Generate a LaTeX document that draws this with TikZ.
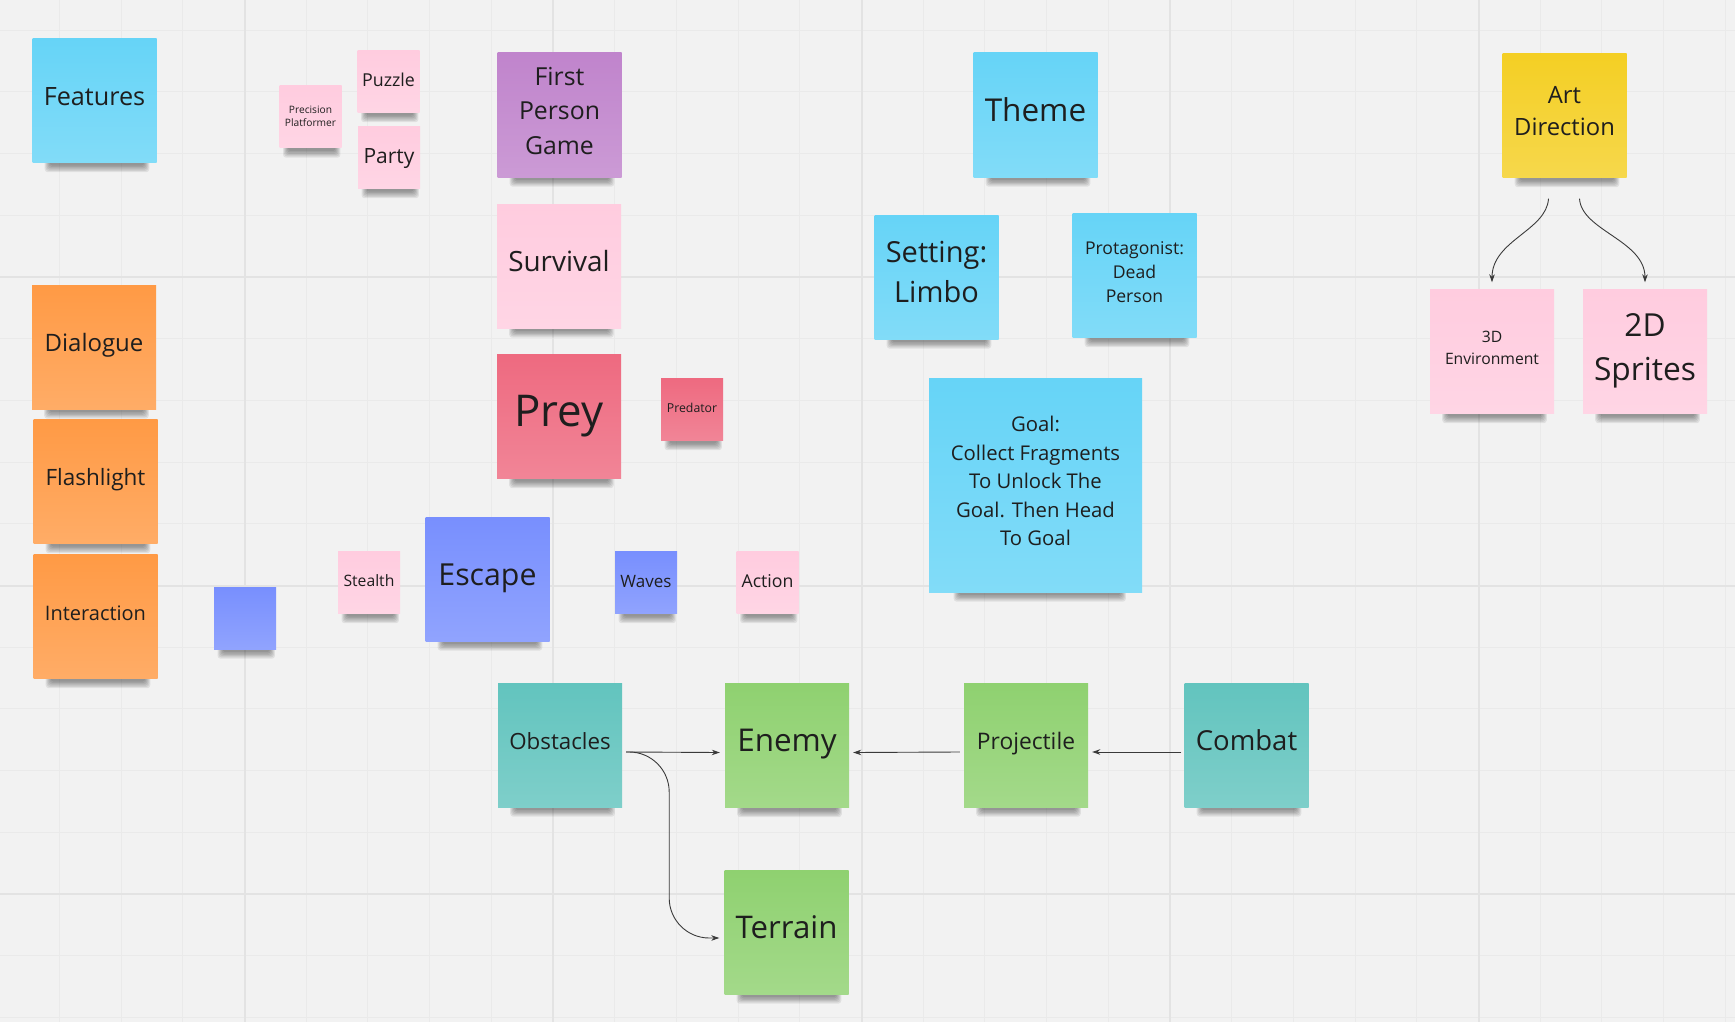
\documentclass[tikz,border=0pt]{standalone}
\usepackage{fontspec}
\setmainfont{Open Sans}
\usetikzlibrary{arrows.meta,calc}
\pgfdeclarelayer{bg}
\pgfdeclarelayer{shadow}
\pgfsetlayers{bg,shadow,main}
\definecolor{paper}{HTML}{F2F2F2}
\definecolor{gridminor}{HTML}{EAEAEA}
\definecolor{gridmajor}{HTML}{E3E3E3}
\definecolor{ncyan}{HTML}{66D4F7}
\definecolor{npink}{HTML}{FFCCDF}
\definecolor{npurple}{HTML}{C084CC}
\definecolor{nred}{HTML}{EE6A80}
\definecolor{nyellow}{HTML}{F4CF24}
\definecolor{norange}{HTML}{FF9A45}
\definecolor{nblue}{HTML}{788FFE}
\definecolor{nteal}{HTML}{62C4BE}
\definecolor{ngreen}{HTML}{8FD170}
\definecolor{ink}{HTML}{1E1E1E}
\definecolor{wire}{HTML}{3A3A3A}
\newcommand\notetext[2][2pt]{\raisebox{#1}[\height][\depth]{\begin{tabular}{@{}c@{}}#2\end{tabular}}}
\tikzset{
  note/.style={rectangle, minimum width=124, minimum height=124, inner sep=0pt,
    text=ink, top color=#1, bottom color=#1!82!white},
  small/.style={minimum width=62, minimum height=62},
  fs/.style 2 args={font=\fontsize{#1}{#2}\selectfont},
  link/.style={draw=wire, line width=0.9pt, -{Stealth[length=8pt,width=5.5pt]}},
}
\begin{document}
\begin{tikzpicture}[x=1pt,y=-1pt]
\useasboundingbox (0,0) rectangle (1735,1022);
\begin{pgfonlayer}{bg}
  \fill[paper] (0,0) rectangle (1735,1022);
  \foreach \i in {0,...,28} \draw[gridminor, line width=1pt] ({-2.3+61.7*\i},0) -- ({-2.3+61.7*\i},1022);
  \foreach \j in {0,...,16} \draw[gridminor, line width=1pt] (0,{30.2+61.7*\j}) -- (1735,{30.2+61.7*\j});
  \foreach \i in {0,...,4} \draw[gridmajor, line width=2pt] ({244.5+308.5*\i},0) -- ({244.5+308.5*\i},1022);
  \foreach \j in {0,...,2} \draw[gridmajor, line width=2pt] (0,{277+308.5*\j}) -- (1735,{277+308.5*\j});
\end{pgfonlayer}

% left column
\node[note=ncyan, fs={25.2}{34}] (feat) at (94.5,100.5) {\notetext{Features}};
\node[note=norange, fs={24}{33}] (dial) at (94,347) {\notetext{Dialogue}};
\node[note=norange, fs={22.5}{31}] (flash) at (95.5,481.5) {\notetext{Flashlight}};
\node[note=norange, fs={20}{28}] (inter) at (95.5,616.5) {\notetext{Interaction}};

% genres
\node[note=npink, small, fs={10.2}{13.3}] (prec) at (310.5,117) {\notetext[0pt]{Precision\\Platformer}};
\node[note=npink, small, fs={17.8}{24}] (puzz) at (388.5,81.5) {\notetext[0pt]{Puzzle}};
\node[note=npink, small, fs={21}{28}] (party) at (389,157.5) {\notetext[0pt]{Party}};
\node[note=npurple, fs={24.8}{34.3}] (fpg) at (559.5,115) {\notetext{First\\Person\\Game}};
\node[note=npink, fs={27.9}{38}] (surv) at (559,266) {\notetext{Survival}};
\node[note=nred, fs={43.8}{58}] (prey) at (559,416.5) {\notetext{Prey}};
\node[note=nred, small, fs={12.3}{16}] (pred) at (692,409.5) {\notetext[0pt]{Predator}};

% middle row
\node[note=nblue, small] (blank) at (245,618) {};
\node[note=npink, small, fs={15.7}{21}] (stealth) at (369,582.5) {\notetext[0pt]{Stealth}};
\node[note=nblue, fs={30.3}{41}] (escape) at (487.5,579) {\notetext{Escape}};
\node[note=nblue, small, fs={17}{23}] (waves) at (646,582.5) {\notetext[0pt]{Waves}};
\node[note=npink, small, fs={17.7}{24}] (action) at (767.5,582.5) {\notetext[0pt]{Action}};

% theme
\node[note=ncyan, fs={31.5}{43}] (theme) at (1035.5,115) {\notetext{Theme}};
\node[note=ncyan, fs={29}{40}] (setting) at (936.5,277) {\notetext[3pt]{Setting:\\Limbo}};
\node[note=ncyan, fs={17.6}{24.3}] (prot) at (1134.5,275.5) {\notetext{Protagonist:\\Dead\\Person}};
\node[note=ncyan, minimum width=213, minimum height=214, fs={20.3}{28.5}] (goal) at (1035.5,485) {\notetext{Goal:\\Collect Fragments\\To Unlock The\\Goal. Then Head\\To Goal}};

% art direction
\node[note=nyellow, fs={23.8}{32}] (art) at (1564.5,115.5) {\notetext{Art\\Direction}};
\node[note=npink, fs={15.7}{22}] (env3d) at (1492,351.5) {\notetext{3D\\Environment}};
\node[note=npink, fs={31.7}{44}] (spr2d) at (1645,351.5) {\notetext{2D\\Sprites}};

% combat chain
\node[note=nteal, fs={22.3}{30}] (obst) at (560,745) {\notetext{Obstacles}};
\node[note=ngreen, fs={31.4}{42}] (enemy) at (787,745.5) {\notetext{Enemy}};
\node[note=ngreen, fs={22.8}{31}] (proj) at (1026,745) {\notetext{Projectile}};
\node[note=nteal, fs={27.5}{37}] (combat) at (1246.5,745) {\notetext{Combat}};
\node[note=ngreen, fs={31.2}{42}] (terrain) at (786.5,932) {\notetext{Terrain}};

% shadows
\begin{pgfonlayer}{shadow}
\foreach \nm in {feat,dial,flash,inter,prec,puzz,party,fpg,surv,prey,pred,blank,stealth,escape,waves,action,theme,setting,prot,goal,art,env3d,spr2d,obst,enemy,proj,combat,terrain}{
  \foreach \k in {0,...,5}{
    \fill[black, opacity=0.075, rounded corners=3pt]
      ($(\nm.south west)!0.14!(\nm.south east)+(-\k,-6)$) rectangle
      ($(\nm.south west)!0.9!(\nm.south east)+(\k,{3+1.3*\k})$);
  }
}
\end{pgfonlayer}

% connectors
\draw[link] ([xshift=4pt,yshift=-7pt]obst.east) -- ([xshift=-5pt,yshift=-7pt]enemy.west);
\draw[link, rounded corners=40pt] ([xshift=4pt,yshift=-7pt]obst.east) -| ++(43,93) |- ([xshift=-5pt,yshift=-6pt]terrain.west);
\draw[link] ([xshift=-4pt,yshift=-7pt]proj.west) -- ([xshift=4pt,yshift=-7pt]enemy.east);
\draw[link] ([xshift=-3pt,yshift=-7pt]combat.west) -- ([xshift=4pt,yshift=-7pt]proj.east);
\draw[link] ([xshift=-16pt,yshift=-21pt]art.south) .. controls +(-2,32) and +(0,-42) .. ([yshift=7pt]env3d.north);
\draw[link] ([xshift=15pt,yshift=-21pt]art.south) .. controls +(2,32) and +(0,-42) .. ([yshift=7pt]spr2d.north);
\end{tikzpicture}
\end{document}
